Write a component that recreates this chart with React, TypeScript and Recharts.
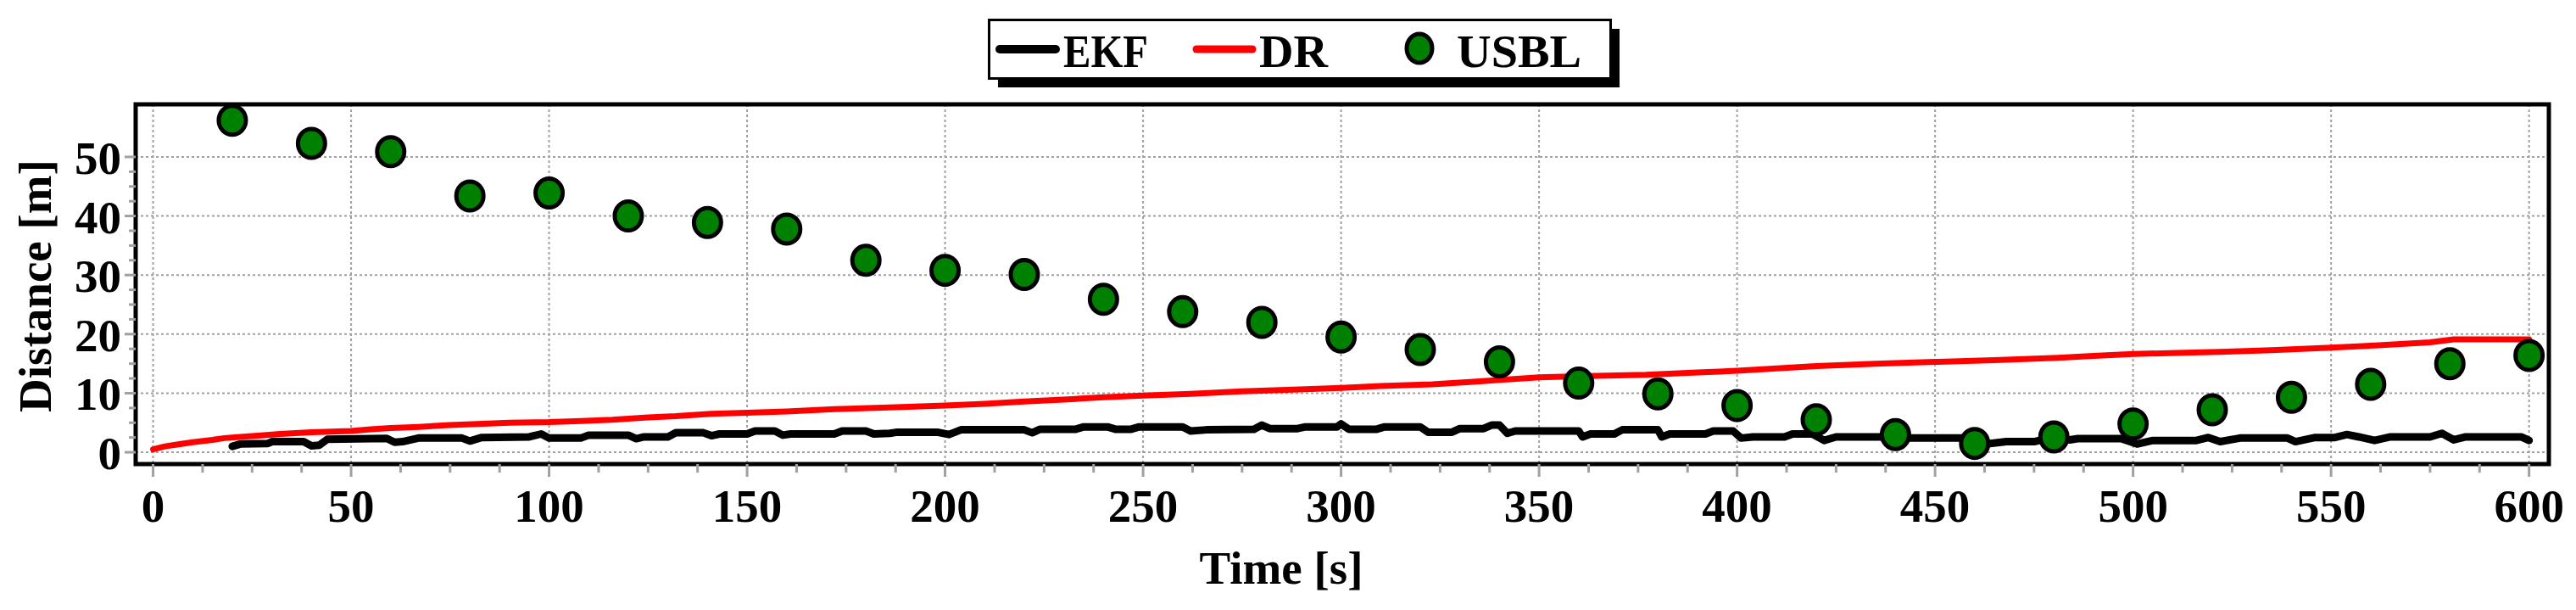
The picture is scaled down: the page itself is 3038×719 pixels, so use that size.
import React from 'react';
import { ComposedChart, Line, Scatter, XAxis, YAxis, CartesianGrid, ReferenceArea, Legend } from 'recharts';

const FONT = '"Liberation Serif", "Times New Roman", Times, serif';

// ---- data ----
const USBL_T = [20, 40, 60, 80, 100, 120, 140, 160, 180, 200, 220, 240, 260, 280, 300, 320, 340, 360, 380, 400, 420, 440, 460, 480, 500, 520, 540, 560, 580, 600];
const USBL_V = [56.2, 52.3, 50.9, 43.4, 43.9, 40.0, 38.9, 37.8, 32.5, 30.8, 30.1, 25.9, 23.8, 22.0, 19.5, 17.4, 15.3, 11.7, 9.9, 7.9, 5.5, 3.0, 1.5, 2.6, 4.8, 7.2, 9.3, 11.5, 15.0, 16.4];

const DR_T = [0, 3, 6, 10, 15, 18, 22, 28, 32, 40, 45, 50, 55, 60, 67, 75, 82, 90, 100, 108, 116, 125, 132, 141, 150, 160, 172, 186, 200, 210, 220, 232, 240, 250, 262, 275, 288, 300, 310, 323, 335, 350, 362, 377, 390, 400, 410, 420, 435, 450, 465, 481, 490, 500, 511, 522, 535, 550, 562, 575, 581, 600];
const DR_V = [0.5, 1.0, 1.3, 1.7, 2.1, 2.4, 2.6, 2.9, 3.1, 3.4, 3.5, 3.6, 3.9, 4.1, 4.3, 4.6, 4.8, 5.0, 5.1, 5.3, 5.5, 5.9, 6.1, 6.5, 6.7, 6.9, 7.3, 7.6, 7.9, 8.2, 8.6, 9.0, 9.3, 9.6, 9.9, 10.3, 10.6, 10.9, 11.2, 11.5, 12.0, 12.7, 12.9, 13.1, 13.5, 13.8, 14.2, 14.6, 15.0, 15.3, 15.6, 16.0, 16.3, 16.65, 16.8, 17.0, 17.3, 17.7, 18.1, 18.6, 19.1, 19.1];

const EKF_T = [20, 22, 29, 30, 38, 40, 42, 44, 59, 61, 63, 67, 78, 80, 83, 95, 98, 100, 108, 110, 120, 122, 124, 130, 132, 139, 141, 143, 150, 152, 157, 159, 161, 172, 174, 180, 182, 186, 188, 198, 201, 204, 220, 222, 224, 233, 235, 241, 243, 247, 249, 260, 262, 266, 278, 280, 282, 289, 291, 299, 300, 302, 309, 311, 320, 322, 328, 330, 336, 338, 340, 342, 344, 360, 361, 363, 369, 371, 380, 381, 383, 392, 394, 399, 401, 404, 412, 414, 419, 422, 425, 437, 441, 458, 463, 468, 475, 477, 484, 486, 497, 501, 505, 516, 519, 522, 527, 539, 541, 546, 551, 554, 557, 561, 565, 575, 578, 581, 584, 598, 600];
const EKF_V = [1.0, 1.4, 1.5, 1.8, 1.8, 1.1, 1.2, 2.2, 2.35, 1.7, 1.8, 2.4, 2.4, 1.9, 2.5, 2.6, 3.1, 2.4, 2.4, 2.9, 2.9, 2.3, 2.6, 2.6, 3.3, 3.3, 2.8, 3.1, 3.1, 3.6, 3.6, 2.9, 3.1, 3.1, 3.6, 3.6, 3.1, 3.2, 3.4, 3.4, 3.0, 3.8, 3.8, 3.3, 3.9, 3.9, 4.3, 4.3, 3.9, 3.9, 4.3, 4.3, 3.6, 3.8, 3.9, 4.6, 4.0, 4.0, 4.3, 4.3, 4.8, 3.9, 3.9, 4.3, 4.3, 3.4, 3.4, 4.0, 4.0, 4.6, 4.6, 3.2, 3.6, 3.6, 2.6, 3.1, 3.1, 3.8, 3.8, 2.6, 3.1, 3.1, 3.6, 3.6, 2.4, 2.6, 2.6, 3.1, 3.1, 2.0, 2.6, 2.6, 2.4, 2.4, 1.4, 1.8, 1.8, 2.1, 2.1, 2.3, 2.3, 1.4, 2.0, 2.0, 2.5, 1.8, 2.4, 2.4, 1.8, 2.5, 2.5, 3.0, 2.6, 2.0, 2.6, 2.6, 3.2, 2.1, 2.6, 2.6, 2.0];

const X_TICKS = [0, 12.5, 25, 37.5, 50, 62.5, 75, 87.5, 100, 112.5, 125, 137.5, 150, 162.5, 175, 187.5, 200, 212.5, 225, 237.5, 250, 262.5, 275, 287.5, 300, 312.5, 325, 337.5, 350, 362.5, 375, 387.5, 400, 412.5, 425, 437.5, 450, 462.5, 475, 487.5, 500, 512.5, 525, 537.5, 550, 562.5, 575, 587.5, 600];
const X_MAJOR = [0, 50, 100, 150, 200, 250, 300, 350, 400, 450, 500, 550, 600];
const Y_TICKS = [0, 2.5, 5, 7.5, 10, 12.5, 15, 17.5, 20, 22.5, 25, 27.5, 30, 32.5, 35, 37.5, 40, 42.5, 45, 47.5, 50];
const Y_MAJOR = [0, 10, 20, 30, 40, 50];
const X_DOMAIN = [-4.4, 605.0];
const Y_DOMAIN = [-2, 58.9];

const SERIES_NAMES = ['EKF', 'DR', 'USBL'];

const ekfData = EKF_T.map((t, i) => ({ t, v: EKF_V[i] }));
const drData = DR_T.map((t, i) => ({ t, v: DR_V[i] }));
const usblData = USBL_T.map((t, i) => ({ t, v: USBL_V[i] }));

const GRAY = '#a0a0a0';

const XTick = (props: any) => {
  const { x, y, payload } = props;
  const major = X_MAJOR.includes(payload.value);
  return (
    <g>
      <line x1={x} x2={x} y1={y} y2={y + (major ? 15 : 10)} stroke={GRAY} strokeWidth={3} />
      {major && (
        <text x={x} y={y + 68} textAnchor="middle" fontFamily={FONT} fontWeight="bold" fontSize={55} fill="#000">
          {payload.value}
        </text>
      )}
    </g>
  );
};

const YTick = (props: any) => {
  const { x, y, payload } = props;
  const major = Y_MAJOR.includes(payload.value);
  return (
    <g>
      <line x1={x} x2={x - (major ? 13 : 8)} y1={y} y2={y} stroke={GRAY} strokeWidth={3} />
      {major && (
        <text x={x - 17} y={y + 20} textAnchor="end" fontFamily={FONT} fontWeight="bold" fontSize={55} fill="#000">
          {payload.value}
        </text>
      )}
    </g>
  );
};

const XLabel = () => (
  <text x={1511} y={688} textAnchor="middle" fontFamily={FONT} fontWeight="bold" fontSize={55} fill="#000">
    Time [s]
  </text>
);

const YLabel = () => (
  <text transform="translate(60,337) rotate(-90)" textAnchor="middle" fontFamily={FONT} fontWeight="bold" fontSize={55} fill="#000">
    Distance [m]
  </text>
);

const LegendBox = () => (
  <svg width={748} height={84} style={{ display: 'block' }}>
    <rect x={12} y={12} width={733} height={69} fill="#000" />
    <rect x={1.5} y={1.5} width={733} height={69} fill="#fff" stroke="#000" strokeWidth={3} />
    <line x1={14} x2={80} y1={36} y2={36} stroke="#000" strokeWidth={10} strokeLinecap="round" />
    <text x={89} y={57} fontFamily={FONT} fontWeight="bold" fontSize={55} textLength={100} lengthAdjust="spacingAndGlyphs">{SERIES_NAMES[0]}</text>
    <line x1={246} x2={312} y1={36} y2={36} stroke="#ff0000" strokeWidth={9} strokeLinecap="round" />
    <text x={320} y={57} fontFamily={FONT} fontWeight="bold" fontSize={55} textLength={81} lengthAdjust="spacingAndGlyphs">{SERIES_NAMES[1]}</text>
    <ellipse cx={509} cy={35} rx={15} ry={17} fill="#008000" stroke="#000" strokeWidth={5} />
    <text x={553} y={57} fontFamily={FONT} fontWeight="bold" fontSize={55} textLength={147} lengthAdjust="spacingAndGlyphs">{SERIES_NAMES[2]}</text>
  </svg>
);

const UsblDot = (props: any) => {
  const { cx, cy } = props;
  if (cx == null || cy == null) return <g />;
  return <ellipse cx={cx} cy={cy} rx={16} ry={17} fill="#008000" stroke="#000" strokeWidth={5} />;
};

export default function App() {
  return (
    <div style={{ position: 'absolute', left: 0, top: 0, width: 3038, height: 719, background: '#fff' }}>
      <ComposedChart width={3038} height={719} margin={{ top: 123, right: 32, bottom: 112, left: 60 }}>
        <CartesianGrid
          stroke={GRAY}
          strokeWidth={2}
          strokeDasharray="3 3"
          horizontalValues={Y_MAJOR}
          verticalValues={X_MAJOR}
        />
        <XAxis
          dataKey="t"
          type="number"
          domain={X_DOMAIN}
          allowDataOverflow
          ticks={X_TICKS}
          interval={0}
          tick={<XTick />}
          tickLine={false}
          axisLine={false}
          tickSize={0}
          tickMargin={0}
          height={60}
          label={{ content: <XLabel /> }}
        />
        <YAxis
          type="number"
          domain={Y_DOMAIN}
          allowDataOverflow
          ticks={Y_TICKS}
          interval={0}
          tick={<YTick />}
          tickLine={false}
          axisLine={false}
          tickSize={0}
          tickMargin={0}
          width={100}
          label={{ content: <YLabel /> }}
        />
        <Legend
          layout="horizontal"
          verticalAlign="middle"
          align="center"
          content={<LegendBox />}
          wrapperStyle={{ left: 1165, top: 22, width: 748, height: 84 }}
        />
        <Line data={ekfData} dataKey="v" name={SERIES_NAMES[0]} type="linear" stroke="#000" strokeWidth={9} strokeLinejoin="round" strokeLinecap="round" dot={false} activeDot={false} isAnimationActive={false} />
        <Line data={drData} dataKey="v" name={SERIES_NAMES[1]} type="linear" stroke="#ff0000" strokeWidth={7} strokeLinejoin="round" strokeLinecap="round" dot={false} activeDot={false} isAnimationActive={false} />
        <Scatter data={usblData} dataKey="v" name={SERIES_NAMES[2]} shape={<UsblDot />} isAnimationActive={false} />
        <ReferenceArea x1={X_DOMAIN[0]} x2={X_DOMAIN[1]} y1={Y_DOMAIN[0]} y2={Y_DOMAIN[1]} fill="none" stroke="#000" strokeWidth={5} ifOverflow="visible" />
      </ComposedChart>
    </div>
  );
}
